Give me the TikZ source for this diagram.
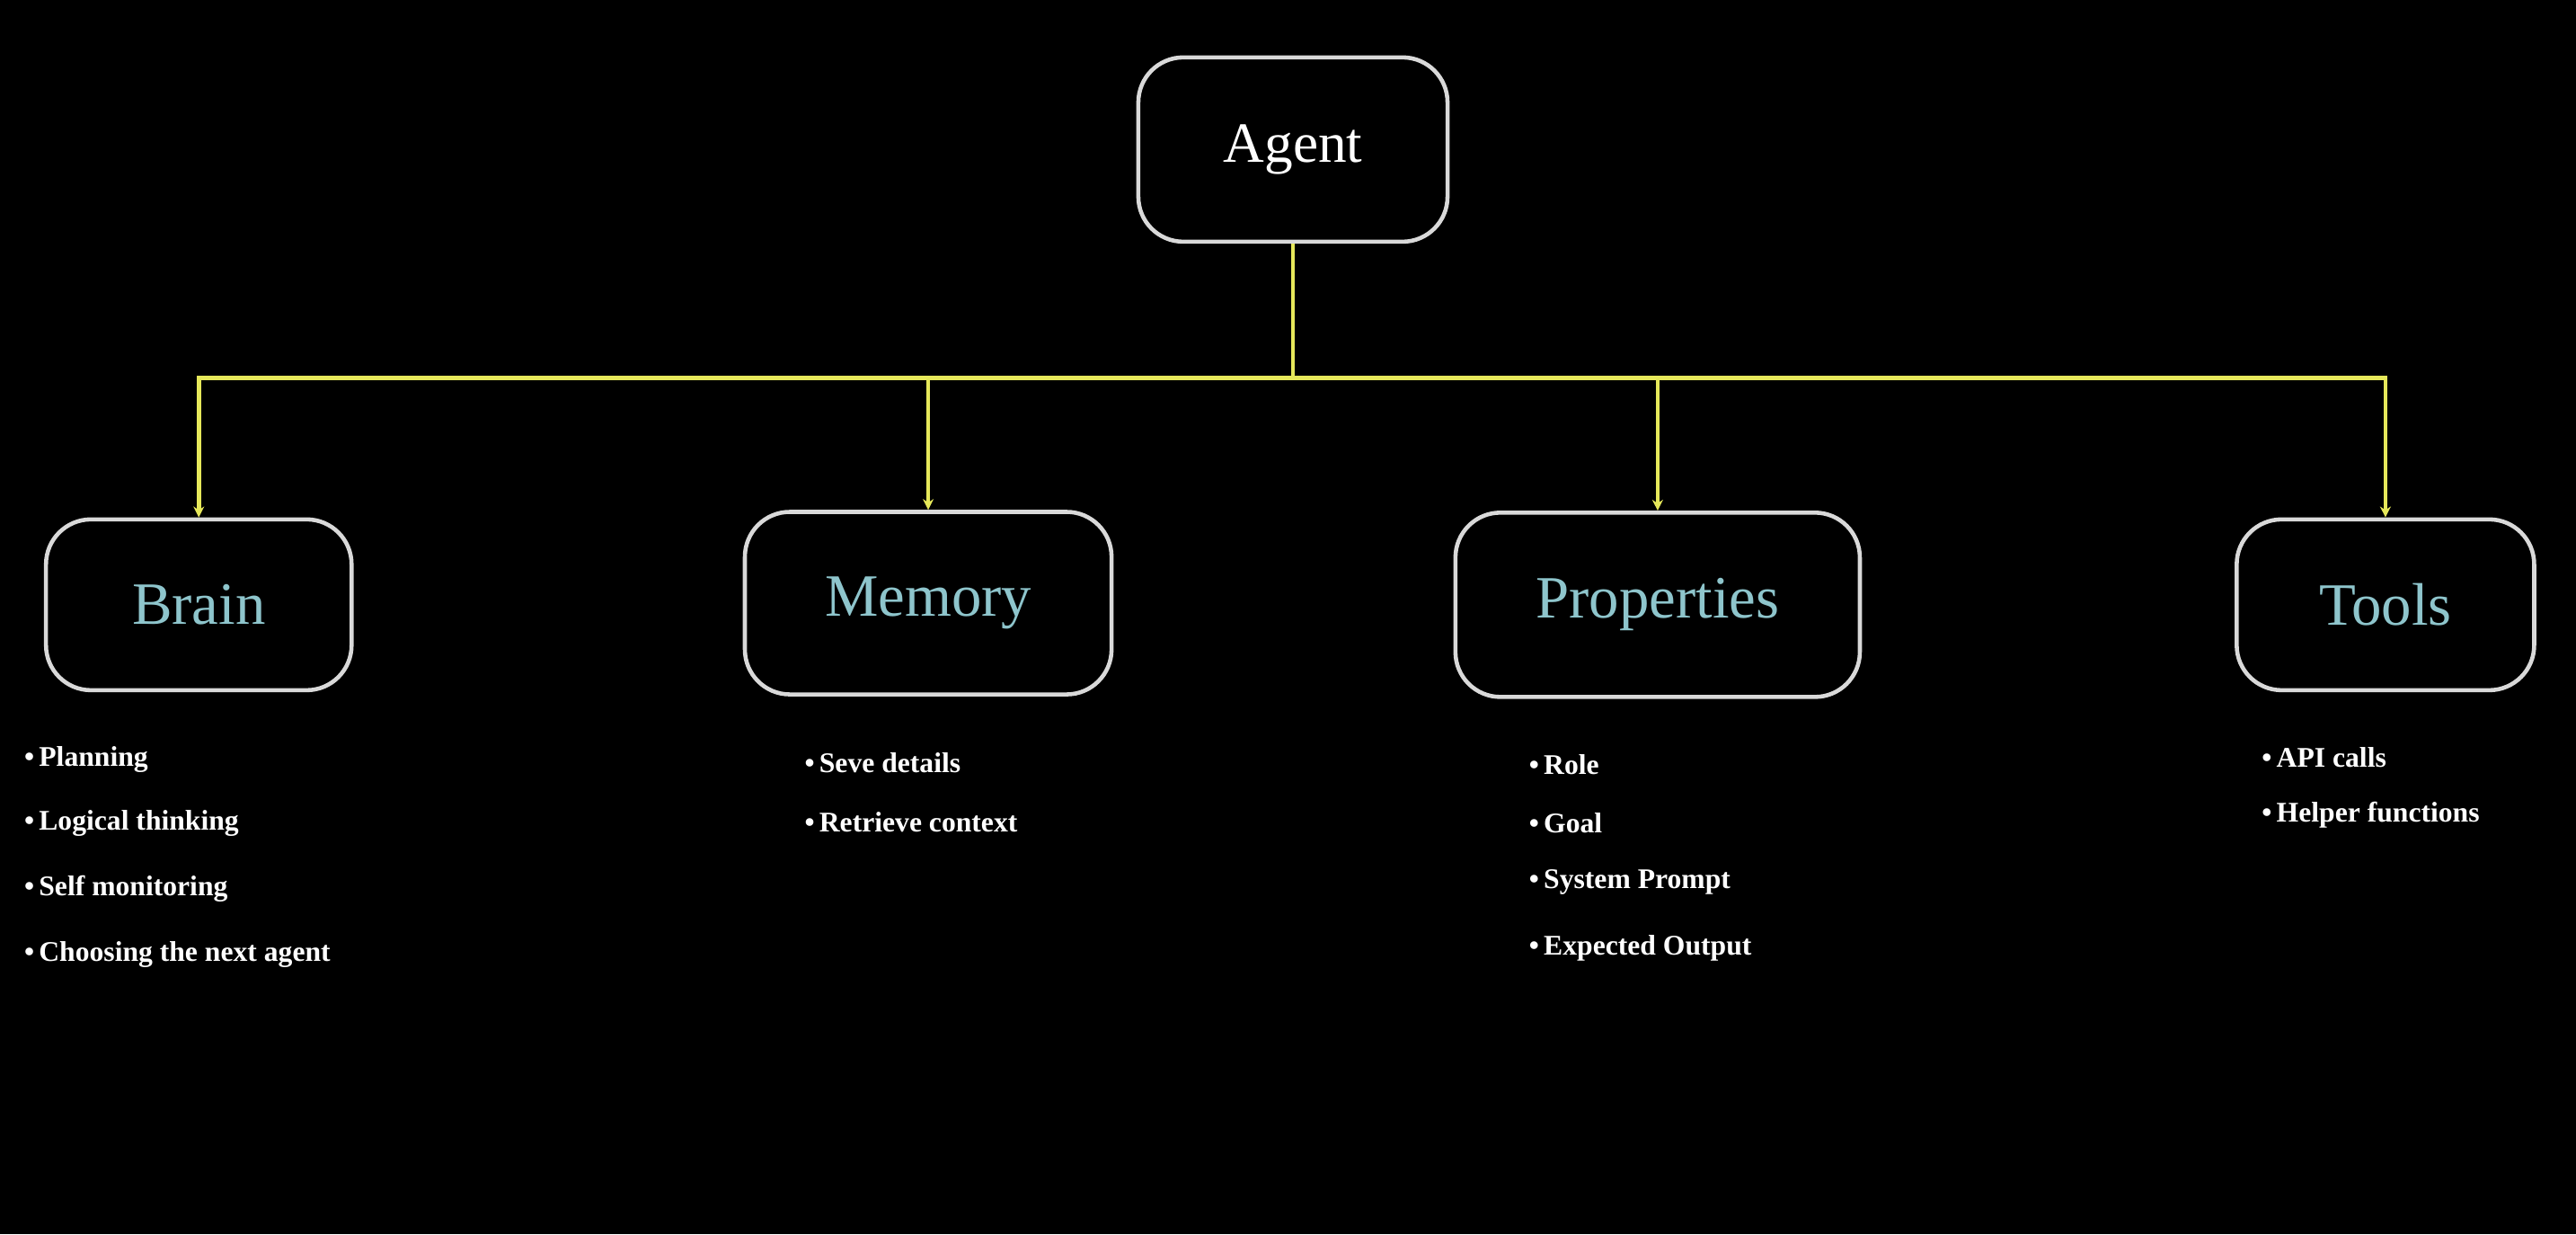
\documentclass[tikz,border=0pt]{standalone}
\usepackage{fontspec}
\setmainfont{Liberation Serif}
\usetikzlibrary{calc,arrows.meta}

\definecolor{linkyellow}{HTML}{E6E85A}
\definecolor{titleblue}{HTML}{8EC5CC}

\begin{document}
\begin{tikzpicture}[x=0.1828mm, y=-0.1828mm]

        % Background fixes the picture size
        \fill[black] (0, 0) rectangle (1568, 751);

        \tikzset{box/.style={draw=white!85!black, line width=1.3pt,
                rounded corners=5mm, align=center},
            part/.style={box, text=titleblue, font=\fontsize{19}{22}\selectfont},
            item/.style={anchor=west, text=white, font=\fontsize{9}{11}\selectfont\bfseries},
            link/.style={draw=linkyellow, line width=1.3pt}}

        % Top node and the four parts
        \node[box, text=white, font=\fontsize{18}{22}\selectfont,
            minimum width=34.4mm, minimum height=20.5mm] (agent) at (787, 91) {Agent};
        \node[part, minimum width=34mm, minimum height=19mm] (brain) at (121, 368) {Brain};
        \node[part, minimum width=40.8mm, minimum height=20.3mm] (memory) at (565, 367) {Memory};
        \node[part, minimum width=45mm, minimum height=20.5mm] (props) at (1009, 368) {Properties};
        \node[part, minimum width=33.1mm, minimum height=19mm] (tools) at (1452, 368) {Tools};

        % Connectors through a common bus
        \coordinate (bus) at (787, 230);
        \begin{scope}[link]
            \draw (agent) -- (bus);
            \foreach \n in {brain, memory, props, tools}
                \draw[-{Stealth[length=1.2mm, width=1.2mm]}] (bus) -| (\n.north);
        \end{scope}

        % Bullet lists under each part
        \node[item] (b1) at (8, 462) {\textbullet\,Planning};
        \node[item] (b2) at (8, 501) {\textbullet\,Logical thinking};
        \node[item] (b3) at (8, 541) {\textbullet\,Self monitoring};
        \node[item] (b4) at (8, 581) {\textbullet\,Choosing the next agent};

        \node[item] (m1) at (483, 464) {\textbullet\,Seve details};
        \node[item] (m2) at (483, 500) {\textbullet\,Retrieve context};

        \node[item] (p1) at (924, 465) {\textbullet\,Role};
        \node[item] (p2) at (924, 501) {\textbullet\,Goal};
        \node[item] (p3) at (924, 537) {\textbullet\,System Prompt};
        \node[item] (p4) at (924, 577) {\textbullet\,Expected Output};

        \node[item] (t1) at (1370, 461) {\textbullet\,API calls};
        \node[item] (t2) at (1370, 496) {\textbullet\,Helper functions};

\end{tikzpicture}
\end{document}
